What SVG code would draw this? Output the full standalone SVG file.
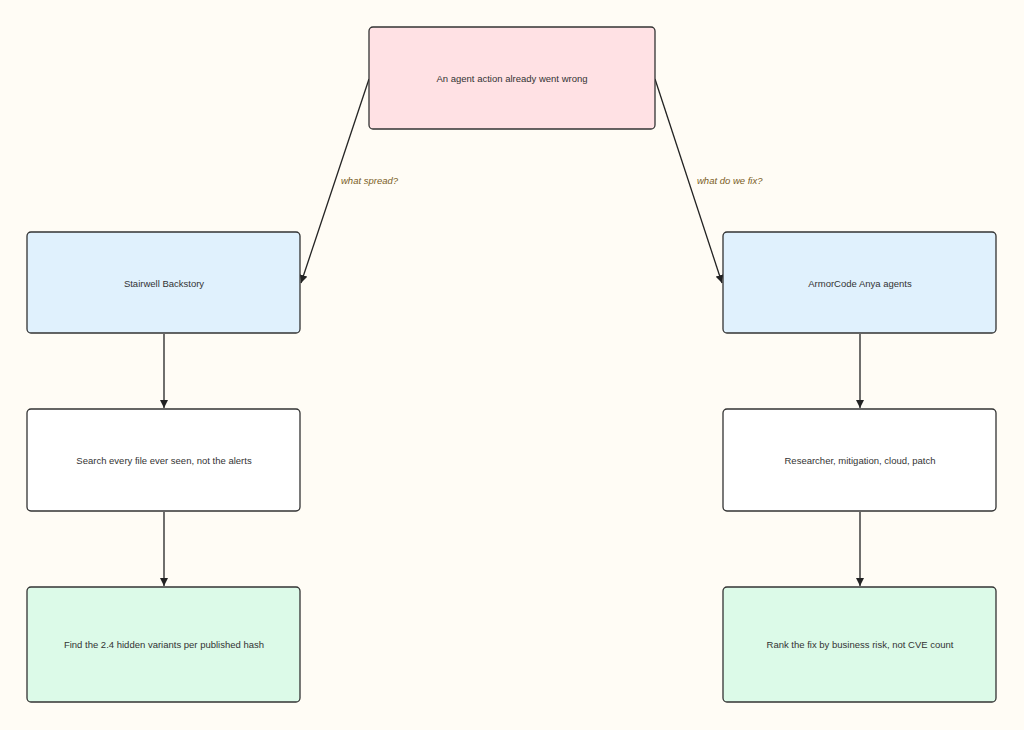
<svg xmlns="http://www.w3.org/2000/svg" width="1024" height="730" viewBox="0 0 1024 730">
<style>
.node rect{stroke:#333;stroke-width:1.3}
.node text{font-family:"Liberation Sans",Arial,sans-serif;font-size:9.5px;fill:#333;text-anchor:middle;dominant-baseline:central}
.edge{stroke:#222;stroke-width:1.3;fill:none;marker-end:url(#arr)}
.lbl{font-family:"Liberation Sans",Arial,sans-serif;font-size:9.5px;fill:#7a5c1e;font-style:italic}
</style>
<defs>
<marker id="arr" viewBox="0 0 10 10" refX="10" refY="5" markerWidth="8" markerHeight="8" orient="auto-start-reverse" markerUnits="userSpaceOnUse">
<path d="M0,0 L10,5 L0,10 z" fill="#222"/>
</marker>
</defs>
<rect width="1024" height="730" fill="#fffcf5"/>
<g id="connectors">
<path class="edge" d="M369,79 L301,283"/>
<path class="edge" d="M655,79 L722,283"/>
<path class="edge" d="M164,334 L164,408"/>
<path class="edge" d="M164,512 L164,586"/>
<path class="edge" d="M860,334 L860,408"/>
<path class="edge" d="M860,512 L860,586"/>
<text class="lbl" x="341" y="184">what spread?</text>
<text class="lbl" x="697" y="184">what do we fix?</text>
</g>
<g id="n_root" class="node"><rect x="369" y="27" width="286" height="102" rx="4" fill="#ffe1e4"/><text x="512" y="78">An agent action already went wrong</text></g>
<g id="n_stairwell" class="node"><rect x="27" y="232" width="273" height="101" rx="4" fill="#e0f1fd"/><text x="164" y="283">Stairwell Backstory</text></g>
<g id="n_armor" class="node"><rect x="723" y="232" width="273" height="101" rx="4" fill="#e0f1fd"/><text x="860" y="283">ArmorCode Anya agents</text></g>
<g id="n_search" class="node"><rect x="27" y="409" width="273" height="102" rx="4" fill="#ffffff"/><text x="164" y="460">Search every file ever seen, not the alerts</text></g>
<g id="n_research" class="node"><rect x="723" y="409" width="273" height="102" rx="4" fill="#ffffff"/><text x="860" y="460">Researcher, mitigation, cloud, patch</text></g>
<g id="n_find" class="node"><rect x="27" y="587" width="273" height="115" rx="4" fill="#dcfae8"/><text x="164" y="644">Find the 2.4 hidden variants per published hash</text></g>
<g id="n_rank" class="node"><rect x="723" y="587" width="273" height="115" rx="4" fill="#dcfae8"/><text x="860" y="644">Rank the fix by business risk, not CVE count</text></g>
</svg>
